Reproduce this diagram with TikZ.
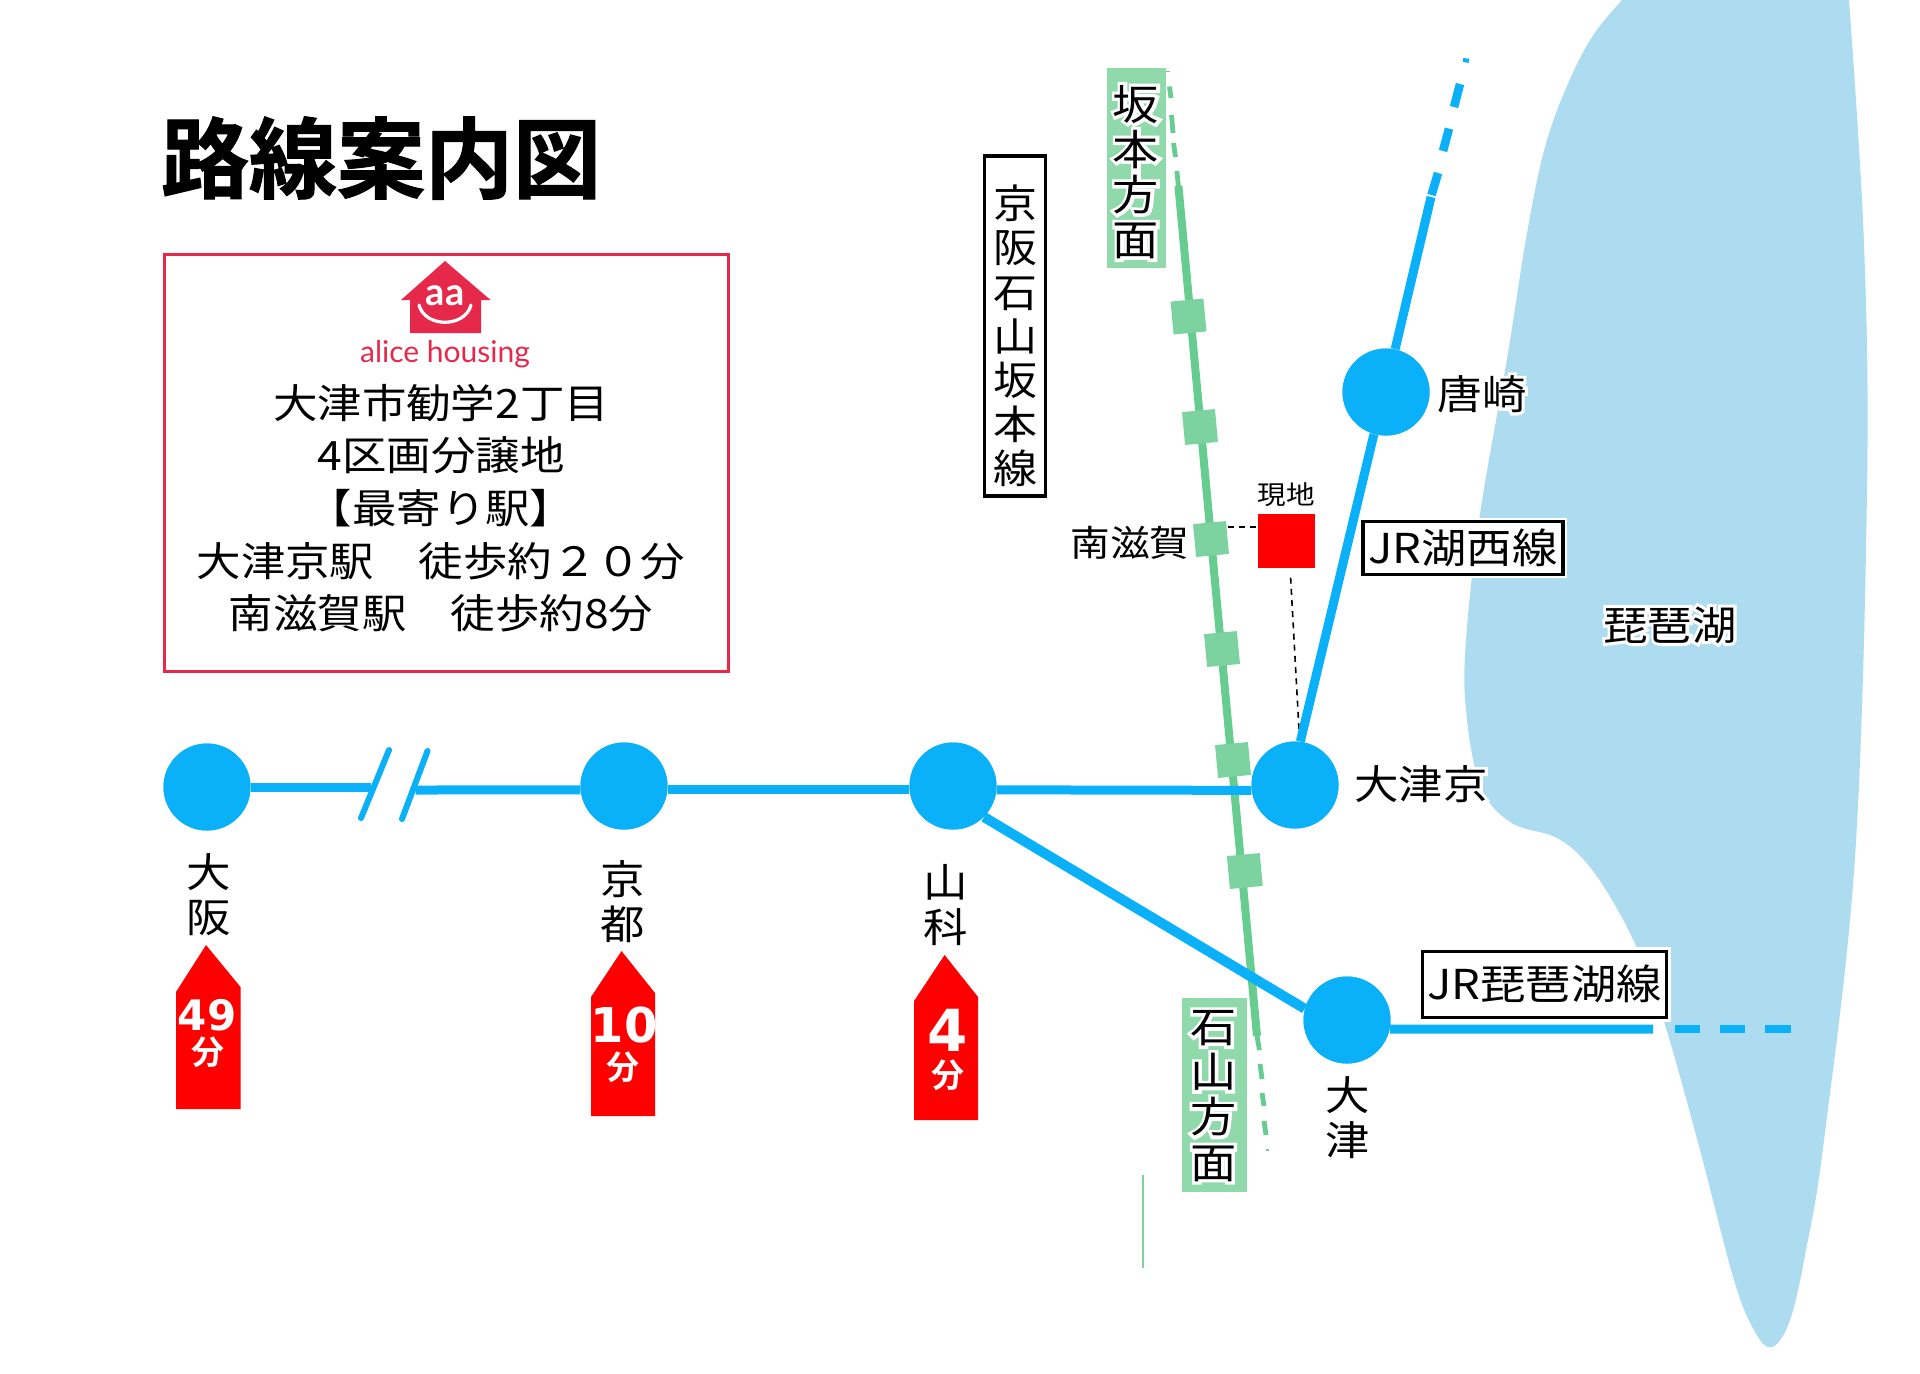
\documentclass[tikz,border=0pt]{standalone}
\usepackage{fontspec}
\newfontfamily\jp[FakeStretch=1.1]{Noto Sans CJK JP}
\newfontfamily\jphalo[FakeStretch=1.1,FakeBold=15]{Noto Sans CJK JP}
\newfontfamily\jpbold[FakeBold=1.2]{Noto Sans CJK JP Bold}
\newfontfamily\jpmid{Noto Sans CJK JP Bold}
\newfontfamily\dgt{DejaVu Sans Bold}
\newfontfamily\lat{Lato Bold}
\newfontfamily\latreg{Lato}
\newcommand\hl[1]{\leavevmode\rlap{\jphalo\textcolor{white}{#1}}#1}
\definecolor{metro}{HTML}{0AB1F8}
\definecolor{lake}{HTML}{ADDCF1}
\definecolor{rail}{HTML}{66CC8F}
\definecolor{stop}{HTML}{7DD3A0}
\definecolor{tag}{HTML}{8FD9AB}
\definecolor{brand}{HTML}{E6294B}
\tikzset{
  station/.style={circle,fill=metro,inner sep=0pt,minimum size=43.5pt},
  blueline/.style={draw=metro,line width=4.5pt},
  bluedash/.style={draw=metro,line width=4.3pt},
  breakmark/.style={draw=metro,line width=3pt,line cap=round},
  greenline/.style={draw=rail,line width=4pt},
  greendash/.style={draw=rail,line width=2.4pt},
  stopbox/.style={fill=stop,inner sep=0pt,minimum size=16.5pt,rotate=5.3},
  lbl/.style={inner sep=0pt,align=center,font=\jp\fontsize{20.2}{22.5}\selectfont},
  framed/.style={draw=black,line width=1.6pt,fill=white,inner sep=0pt,
     preaction={draw=white,line width=4pt},align=center,font=\jp\fontsize{20.6}{22}\selectfont},
  tagbox/.style={fill=tag,inner sep=0pt},
  tagtext/.style={inner sep=0pt,align=center,font=\jp\fontsize{21}{22.6}\selectfont},
  badge/.style={fill=red},
  badgenum/.style={inner sep=0pt,text=white,font=\dgt},
  badgeunit/.style={inner sep=0pt,text=white,font=\jpmid\fontsize{16.5}{16.5}\selectfont},
  leader/.style={draw=black,line width=0.8pt,dash pattern=on 3pt off 2.6pt},
}
\begin{document}
\begin{tikzpicture}[x=0.5pt,y=-0.5pt]
\useasboundingbox (0,0) rectangle (1920,1373);
\fill[white] (0,0) rectangle (1920,1373);
\begin{scope}
\clip (0,0) rectangle (1920,1373);
% lake
\fill[lake] plot[smooth,tension=0.6] coordinates {(1650,-30) (1622,0) (1592,37) (1567,86) (1545,147) (1527,233) (1507,359) (1480,514) (1466,640) (1466,710) (1480,785) (1510,822) (1555,837) (1584,860) (1612,900) (1640,955) (1666,1028) (1700,1150) (1734,1280) (1755,1332) (1772,1347) (1790,1320) (1806,1250) (1824,1140) (1855,857) (1867,490) (1864,245) (1849,0) (1845,-30)} -- cycle;
\end{scope}
% title
\node[inner sep=0pt,font=\jpbold\fontsize{44}{44}\selectfont] (title) at (381,158) {路線案内図};
% info box
\node[draw=brand,line width=1.5pt,fill=white,minimum width=282pt,minimum height=208.5pt,inner sep=0pt] (info) at (446,463) {};
\fill[brand] (445,261) -- (490.6,300) -- (481,300) -- (481,333) -- (410,333) -- (410,300) -- (401,300) -- cycle;
\node[inner sep=0pt,text=white,font=\lat\fontsize{19}{19}\selectfont] (logoaa) at (445,296) {aa};
\draw[white,line width=1.6pt,line cap=round] (419,305) .. controls (425,328) and (465,328) .. (471,305);
\node[inner sep=0pt,text=brand,font=\latreg\fontsize{15}{15}\selectfont] (brandname) at (445,354) {alice housing};
\node[lbl] (l1) at (441,403) {大津市勧学2丁目};
\node[lbl] (l2) at (441,455) {4区画分譲地};
\node[lbl] (l3) at (441,508) {【最寄り駅】};
\node[lbl] (l4) at (441,561) {大津京駅　徒歩約２０分};
\node[lbl] (l5) at (441,613) {南滋賀駅　徒歩約8分};
% stations
\node[station] (osaka) at (207,787) {};
\node[station] (kyoto) at (624,786) {};
\node[station] (yama) at (953,786) {};
\node[station] (kyo2) at (1295,785) {};
\node[station] (kara) at (1386,392) {};
\node[station] (otsu) at (1347,1020) {};
% green line
\coordinate (gt) at (1178.4,186);
\coordinate (gb) at (1257,1036);
\draw[greenline] (gt) -- (gb);
\coordinate (gd1a) at (1169.4,86.5); \coordinate (gd1b) at (1171,98);
\coordinate (gd2a) at (1171.5,115); \coordinate (gd2b) at (1173,133);
\coordinate (gd3a) at (1173.5,143); \coordinate (gd3b) at (1175.5,157);
\coordinate (gd4a) at (1176.8,171); \coordinate (gd4b) at (gt);
\draw[greendash] (gd1a)--(gd1b) (gd2a)--(gd2b) (gd3a)--(gd3b) (gd4a)--(gd4b);
\coordinate (gd5a) at (1257,1036); \coordinate (gd5b) at (1259.4,1050);
\coordinate (gd6a) at (1260,1064); \coordinate (gd6b) at (1262,1079);
\coordinate (gd7a) at (1262,1093); \coordinate (gd7b) at (1264,1106);
\coordinate (gd8a) at (1264,1121); \coordinate (gd8b) at (1266,1135);
\draw[greendash] (gd5a)--(gd5b) (gd6a)--(gd6b) (gd7a)--(gd7b) (gd8a)--(gd8b);
\coordinate (gtk1) at (1266,1150); \coordinate (gtk2) at (1269,1150);
\draw[rail,line width=0.8pt] (gtk1)--(gtk2);
\coordinate (gtk3) at (1166,71.4); \coordinate (gtk4) at (1170,71.4);
\draw[rail,line width=0.8pt] (gtk3)--(gtk4);
\node[stopbox] (s1) at (1188.5,316.5) {};
\node[stopbox] (s2) at (1200,427) {};
\node[stopbox] (s3) at (1211,539) {};
\node[stopbox] (s4) at (1222,649) {};
\node[stopbox] (s5) at (1233,760) {};
\node[stopbox] (s6) at (1244.8,871) {};
% thin line
\coordinate (th1) at (1143,1175); \coordinate (th2) at (1143,1268);
\draw[stop,line width=0.8pt] (th1)--(th2);
% site and leaders
\node[fill=red,inner sep=0pt,minimum width=28.5pt,minimum height=27pt] (site) at (1286.5,541) {};
\node[inner sep=0pt,font=\jp\fontsize{13}{13}\selectfont] (sitelabel) at (1286.5,495) {現地};
\coordinate (lead1) at (1290.6,577.6);
\coordinate (lead2) at (1299,730);
\draw[leader] (lead1)--(lead2);
\draw[leader] (s3.east|-1229,527) -- (site.west|-1256,527);
% blue lines
\coordinate (brk1) at (371,787);
\coordinate (brk2) at (415.6,790);
\draw[blueline] (osaka.east) -- (brk1);
\draw[blueline] (brk2) -- (kyoto.185);
\draw[blueline] (kyoto.-5) -- (yama.185);
\draw[blueline] (yama.-5) -- (kyo2.187);
\draw[blueline,line width=5pt] (yama.-45) -- (otsu.165);
\draw[blueline] (kyo2.83) -- (kara.254);
\coordinate (ktop) at (1431,197);
\draw[blueline] (kara.78) -- (ktop);
\coordinate (k1a) at (1431.5,195); \coordinate (k1b) at (1438,173);
\coordinate (k2a) at (1443,151); \coordinate (k2b) at (1449,128.6);
\coordinate (k3a) at (1454,107); \coordinate (k3b) at (1460,84);
\coordinate (k4a) at (1463,60); \coordinate (k4b) at (1469,60.8);
\draw[bluedash] (k1a)--(k1b) (k2a)--(k2b) (k3a)--(k3b);
\draw[metro,line width=2pt] (k4a)--(k4b);
\coordinate (oe) at (1653,1029);
\draw[blueline] (otsu.-12) -- (oe);
\coordinate (d1a) at (1675,1029); \coordinate (d1b) at (1699.5,1029);
\coordinate (d2a) at (1720,1029); \coordinate (d2b) at (1744.5,1029);
\coordinate (d3a) at (1765,1029); \coordinate (d3b) at (1790.6,1029);
\draw[bluedash] (d1a)--(d1b) (d2a)--(d2b) (d3a)--(d3b);
% break marks
\coordinate (b1a) at (389,750); \coordinate (b1b) at (361,818);
\coordinate (b2a) at (427.5,751); \coordinate (b2b) at (402,819);
\draw[breakmark] (b1a)--(b1b);
\draw[breakmark] (b2a)--(b2b);
% redraw stations above lines
\node[station] at (kyoto) {};
\node[station] at (yama) {};
\node[station] at (kyo2) {};
\node[station] at (kara) {};
\node[station] at (otsu) {};
\node[station] at (osaka) {};
% labels
\node[lbl] (losaka) at (208.5,895) {大\\阪};
\node[lbl] (lkyoto) at (623,902) {京\\都};
\node[lbl] (lyama) at (946,905) {山\\科};
\node[lbl] (lotsu) at (1347.6,1118) {大\\津};
\node[lbl] (lkyo2) at (1421,784) {\hl{大津京}};
\node[lbl] (lkara) at (1482,394) {\hl{唐崎}};
\node[lbl,font=\jp\fontsize{18}{18}\selectfont] (lmin) at (1130,543) {南滋賀};
\node[lbl] (llake) at (1670,625) {\hl{琵琶湖}};
% frames
\node[framed,minimum width=30.6pt,minimum height=170pt] (keihan) at (1015,326) {};
\node[lbl,font=\jp\fontsize{20}{22.1}\selectfont] (keihantext) at (1015,336) {京\\阪\\石\\山\\坂\\本\\線};
\node[framed,minimum width=100pt,minimum height=26.2pt] (jrw) at (1463,548) {JR湖西線};
\node[framed,minimum width=122pt,minimum height=33.2pt] (jrb) at (1544.6,984.3) {JR琵琶湖線};
\node[tagbox,minimum width=29.4pt,minimum height=100pt] (sakamoto) at (1136.6,168.3) {};
\node[tagtext] (sakamototext) at (1136,172) {\hl{坂}\\\hl{本}\\\hl{方}\\\hl{面}};
\node[tagbox,minimum width=32.4pt,minimum height=97pt] (ishiyama) at (1214.3,1095) {};
\node[tagtext] (ishiyamatext) at (1213.5,1096) {\hl{石}\\\hl{山}\\\hl{方}\\\hl{面}};
% badges
\fill[badge] (206,945) -- (240.5,987) -- (240.5,1109) -- (176,1109) -- (176,992) -- cycle;
\node[badgenum,font=\dgt\fontsize{21}{21}\selectfont] (b49) at (207,1015) {49};
\node[badgeunit] (u49) at (208,1052) {分};
\fill[badge] (621.5,951) -- (655,993) -- (655,1116) -- (591,1116) -- (591,997) -- cycle;
\node[badgenum,font=\dgt\fontsize{24}{24}\selectfont] (b10) at (624,1025) {10};
\node[badgeunit] (u10) at (622.6,1067) {分};
\fill[badge] (944.6,955) -- (978,997) -- (978,1120) -- (914,1120) -- (914,1001) -- cycle;
\node[badgenum,font=\dgt\fontsize{29}{29}\selectfont] (b4) at (948,1030) {4};
\node[badgeunit] (u4) at (948,1075) {分};
\end{tikzpicture}
\end{document}
